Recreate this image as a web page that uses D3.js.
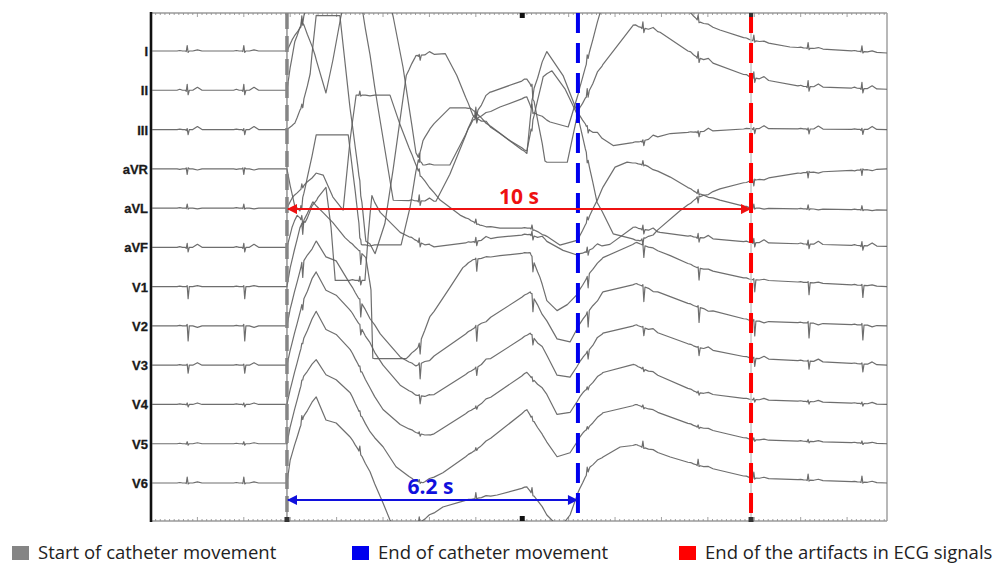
<!DOCTYPE html>
<html><head><meta charset="utf-8">
<script src="https://cdn.jsdelivr.net/npm/d3@7"></script>
<style>
html,body{margin:0;padding:0;background:#fff;}
svg{display:block;}
</style></head>
<body>
<script>
// ---------- DATA ----------
const leads = ["I","II","III","aVR","aVL","aVF","V1","V2","V3","V4","V5","V6"];
// baseline drift / artifact of each lead: [time s, mV]
const lead_I = [[0,0],[2.93,0],[3.04,1.1],[3.28,2.8],[3.53,-0.4],[3.77,-4.2],[3.92,-0.9],[4.09,3.4],[4.20,5.6],[5.11,5.6],[5.22,3.4],[5.43,-1.6],[5.71,-10.2],[5.86,-11.4],[6.44,-11.4],[6.94,-6.9],[7.52,-5.6],[8.10,-4.6],[8.23,-6.1],[8.60,-7.1],[8.99,-7.6],[9.20,-4.4],[9.46,0.1],[9.68,3.8],[9.78,5.6],[11.51,5.6],[11.62,3.8],[11.83,2.9],[12.26,2.1],[12.93,1.1],[13.77,0.4],[15.86,-0.2]];
const lead_II = [[0,0],[2.93,0],[3.00,2.3],[3.10,4.8],[3.21,6.3],[3.32,7.8],[3.38,9.8],[4.50,9.8],[4.57,7.6],[4.89,-1.7],[5.22,-11.0],[6.14,-11.1],[6.44,-8.4],[6.94,-2.7],[7.31,-0.2],[8.10,1.1],[8.19,0.5],[8.32,-2.7],[8.49,-7.2],[8.97,-7.2],[9.20,-2.2],[9.74,2.6],[10.39,6.5],[10.97,5.8],[11.77,3.3],[12.93,1.3],[13.99,0.4],[15.86,0.1]];
const lead_III = [[0,0],[2.93,0],[3.10,0.6],[3.28,2.8],[3.43,5.4],[3.56,11.4],[4.07,11.4],[4.29,2.1],[4.50,-5.2],[4.63,-11.2],[4.83,-12.4],[5.04,-9.4],[5.22,-3.9],[5.37,1.1],[5.50,5.4],[5.71,7.4],[6.34,7.6],[6.59,5.4],[6.94,1.4],[7.52,-0.4],[8.10,-2.4],[8.23,3.8],[8.53,7.8],[8.88,5.4],[9.20,1.6],[9.46,-0.1],[9.96,-1.6],[10.54,-1.2],[11.19,-0.4],[12.93,0.1],[15.86,0]];
const lead_aVR = [[0,0],[2.93,0],[3.00,-1.7],[3.10,-3.7],[3.21,-4.2],[3.34,-1.5],[3.56,3.4],[4.25,3.4],[4.40,-2.2],[4.53,-7.6],[5.39,-7.6],[5.58,-3.9],[5.71,-0.2],[5.86,2.8],[6.01,4.1],[6.44,6.1],[6.88,6.1],[7.31,4.3],[7.74,2.8],[8.10,1.8],[8.23,4.8],[8.45,9.3],[8.64,9.8],[8.92,8.0],[9.20,5.3],[9.61,-3.2],[9.96,-6.5],[10.54,-7.2],[10.82,-6.5],[11.40,-4.2],[11.77,-2.9],[12.26,-2.0],[12.93,-1.2],[13.99,-0.4],[15.86,0]];
const lead_aVL = [[0,0],[2.93,0],[3.04,1.0],[3.21,1.8],[3.34,2.5],[3.56,3.5],[3.71,3.3],[3.92,1.1],[4.14,-0.2],[4.29,6.8],[4.42,11.3],[5.15,11.3],[5.37,8.3],[5.58,5.8],[5.80,3.3],[6.23,0.8],[6.66,-0.7],[7.09,-1.7],[7.52,-2.0],[8.17,-2.0],[8.49,-2.7],[8.81,-3.7],[9.20,-3.2],[9.46,-0.7],[9.74,2.1],[10.00,4.1],[10.26,4.6],[10.65,4.3],[11.19,3.1],[11.77,1.5],[12.26,0.8],[12.93,0],[15.86,-0.2]];
const lead_aVF = [[0,0],[2.93,0],[3.04,2.0],[3.15,3.2],[3.32,2.5],[3.60,5.0],[3.77,6.0],[3.88,2.0],[3.97,-3.3],[4.61,-3.3],[4.68,1.0],[4.76,5.0],[4.94,3.5],[5.37,1.5],[6.01,0],[6.88,0.5],[7.46,1.0],[8.17,1.3],[8.49,0.7],[8.88,-0.3],[9.20,-0.8],[9.57,0],[9.89,0.3],[10.39,2.0],[10.97,1.5],[11.77,1.0],[12.93,0.5],[15.86,0.1]];
const lead_V1 = [[0,0],[2.93,0],[3.00,1.9],[3.21,5.9],[3.49,8.4],[3.71,7.4],[3.92,6.4],[4.18,4.9],[4.46,3.7],[4.63,2.9],[4.74,-0.4],[4.78,-7.2],[5.50,-7.2],[5.75,-6.1],[6.01,-3.1],[6.44,-0.1],[6.72,1.9],[6.94,2.7],[7.52,3.1],[8.17,3.4],[8.38,0.9],[8.53,-1.4],[8.75,-2.4],[8.97,-1.8],[9.18,-0.8],[9.46,1.4],[9.74,2.9],[10.47,4.4],[11.19,3.1],[11.77,1.9],[12.95,0.7],[15.86,0]];
const lead_V2 = [[0,0],[2.93,0],[3.00,1.7],[3.25,6.2],[3.56,8.5],[3.77,6.9],[3.99,6.5],[4.29,4.2],[4.61,1.7],[4.94,-0.8],[5.37,-3.1],[5.71,-4.0],[6.01,-3.3],[7.03,0],[8.17,3.4],[8.38,1.7],[8.53,0.5],[8.75,-1.3],[9.03,-1.6],[9.18,-0.3],[9.31,0.7],[9.74,3.4],[10.47,4.2],[11.77,1.9],[12.95,0.5],[15.86,0]];
const lead_V3 = [[0,0],[2.93,0],[3.00,1.5],[3.28,6.5],[3.56,9.3],[3.77,7.5],[3.99,7.0],[4.29,5.5],[4.50,4.0],[4.72,2.0],[5.00,0],[5.37,-2.0],[5.71,-3.0],[6.01,-3.2],[7.03,-0.2],[8.17,3.2],[8.53,1.0],[8.75,-1.0],[9.03,-1.2],[9.31,0.8],[9.74,3.2],[10.47,4.0],[11.77,1.8],[12.95,0.7],[15.86,0]];
const lead_V4 = [[0,0],[2.93,0],[3.00,1.5],[3.28,6.5],[3.56,9.3],[3.77,7.5],[3.99,7.0],[4.29,5.5],[4.50,3.7],[4.72,1.5],[5.00,-0.5],[5.37,-2.0],[5.71,-2.8],[6.01,-3.2],[7.03,-0.2],[8.10,3.2],[8.53,1.0],[8.75,-1.0],[9.03,-0.8],[9.31,1.2],[9.74,3.2],[10.39,4.0],[11.77,1.2],[12.95,0.5],[15.86,0]];
const lead_V5 = [[0,0],[2.93,0],[3.00,1.7],[3.28,6.7],[3.56,8.4],[3.77,6.9],[3.99,6.4],[4.29,5.1],[4.50,3.1],[4.72,1.1],[5.00,-0.3],[5.28,-2.3],[5.65,-3.6],[5.86,-3.9],[6.29,-2.9],[7.09,-0.3],[8.10,3.4],[8.45,0.7],[8.75,-1.3],[9.03,-0.9],[9.31,1.1],[9.74,3.1],[10.47,3.9],[11.77,1.7],[12.95,0.4],[15.86,0]];
const lead_V6 = [[0,0],[2.93,0],[3.00,2.3],[3.28,6.6],[3.56,8.6],[3.77,6.3],[3.99,6.0],[4.29,4.6],[4.50,3.1],[4.72,1.0],[5.00,-2.0],[5.15,-3.7],[5.37,-5.2],[5.71,-4.2],[6.29,-2.4],[6.81,-1.7],[7.46,-1.2],[8.10,-0.4],[8.32,-1.7],[8.53,-3.2],[8.81,-4.5],[9.03,-3.2],[9.20,-1.0],[9.46,1.6],[9.74,2.6],[10.11,3.6],[10.47,3.8],[11.19,2.6],[11.77,1.8],[12.95,0.5],[15.86,0]];

// heart beats (s) and beat shape (relative time s)
const beatTimes = [0.78, 2.00, 3.25, 4.50, 5.78, 7.00, 8.21, 9.40, 10.60, 11.79, 12.99, 14.16, 15.32];
const beatOffsets = [-0.22, -0.16, -0.10, -0.04, -0.02, 0, 0.02, 0.045, 0.12, 0.22, 0.32];
// per-lead wave amplitudes (mV): P, Q, R, S, T
const waveP = [0.05, 0.10, 0.05, -0.05, 0.05, 0.08, 0.05, 0.05, 0.05, 0.05, 0.05, 0.05];
const waveQ = [-0.05, -0.1, -0.1, 0.1, -0.05, -0.1, 0, 0, 0, -0.05, -0.05, -0.05];
const waveR = [0.55, 0.6, 0.1, -0.55, 0.4, 0.4, 0.1, 0.15, 0.1, 0.15, 0.2, 0.6];
const waveS = [-0.15, -0.45, -0.5, 0.1, -0.1, -0.45, -1.2, -1.5, -0.8, -0.25, -0.15, -0.1];
const waveT = [0.12, 0.3, 0.3, -0.12, -0.08, 0.3, 0.1, -0.15, 0.25, 0.15, 0.1, 0.12];

// events (s) and labels
const eventTimes = [2.93, 9.20, 12.93];
const eventColors = ["#858585", "#0000ee", "#ff0000"];
const legendLabels = ["Start of catheter movement", "End of catheter movement", "End of the artifacts in ECG signals"];
const spanLabels = ["10 s", "6.2 s"];

const drift = {I:lead_I, II:lead_II, III:lead_III, aVR:lead_aVR, aVL:lead_aVL, aVF:lead_aVF,
  V1:lead_V1, V2:lead_V2, V3:lead_V3, V4:lead_V4, V5:lead_V5, V6:lead_V6};

// ---------- LAYOUT ----------
const W = 1002, H = 566;
const L = 151, R = 887, T = 13, B = 521;
const svg = d3.select("body").append("svg").attr("width", W).attr("height", H);

const x = d3.scaleLinear().domain([0, 15.86]).range([L, R]);
const yLead = d3.scalePoint().domain(leads).range([51, 483]);
const mv = d3.scaleLinear().domain([0, 1]).range([0, -10]);

svg.append("defs").append("clipPath").attr("id", "plotclip")
  .append("rect").attr("x", L + 1).attr("y", T).attr("width", R - L - 1).attr("height", B - T);

// frame
const frame = svg.append("g");
frame.append("line").attr("x1", L).attr("x2", R).attr("y1", T).attr("y2", T).attr("stroke", "#9a9a9a").attr("stroke-width", 1.5);
frame.append("line").attr("x1", L).attr("x2", R).attr("y1", B).attr("y2", B).attr("stroke", "#9a9a9a").attr("stroke-width", 1.5);
frame.append("line").attr("x1", R).attr("x2", R).attr("y1", T).attr("y2", B).attr("stroke", "#a0a0a0").attr("stroke-width", 1.5);
// ruler ticks
const tickT = d3.range(0, 15.86, 0.1);
frame.selectAll("line.tt").data(tickT).join("line").attr("class", "tt")
  .attr("x1", d => x(d)).attr("x2", d => x(d))
  .attr("y1", T).attr("y2", d => T + (Math.abs(d - Math.round(d)) < 0.01 ? 4 : 2))
  .attr("stroke", "#8a8a8a").attr("stroke-width", 0.8);
frame.selectAll("line.tb").data(tickT).join("line").attr("class", "tb")
  .attr("x1", d => x(d)).attr("x2", d => x(d))
  .attr("y1", B).attr("y2", d => B - (Math.abs(d - Math.round(d)) < 0.01 ? 4 : 2))
  .attr("stroke", "#8a8a8a").attr("stroke-width", 0.8);
frame.append("line").attr("x1", L).attr("x2", L).attr("y1", T - 1).attr("y2", B + 1).attr("stroke", "#111").attr("stroke-width", 2.6);
// small black markers on ruler
[8.0].forEach(t => {
  frame.append("rect").attr("x", x(t) - 2.5).attr("y", T).attr("width", 5).attr("height", 5).attr("fill", "#111");
  frame.append("rect").attr("x", x(t) - 2.5).attr("y", B - 5).attr("width", 5).attr("height", 5).attr("fill", "#111");
});

// lead labels
svg.append("g").selectAll("text").data(leads).join("text")
  .attr("x", 148).attr("y", d => yLead(d) + 5)
  .attr("text-anchor", "end")
  .attr("font-family", "Liberation Sans, Arial, sans-serif")
  .attr("font-weight", "bold").attr("font-size", 13).attr("fill", "#1a1a1a")
  .attr("stroke", "#1a1a1a").attr("stroke-width", 0.3)
  .text(d => d);

// traces
function tracePoints(lead, i) {
  const d = drift[lead];
  const base = d3.scaleLinear().domain(d.map(p => p[0])).range(d.map(p => p[1]));
  const shape = d3.scaleLinear().domain(beatOffsets)
    .range([0, waveP[i], 0, 0, waveQ[i], waveR[i], waveS[i], 0, 0, waveT[i], 0]).clamp(true);
  let ts = d.map(p => p[0]);
  beatTimes.forEach(b => beatOffsets.forEach(o => ts.push(b + o)));
  ts = Array.from(new Set(ts.map(t => +t.toFixed(4)))).filter(t => t >= 0 && t <= 15.86).sort((a, b) => a - b);
  return ts.map(t => {
    let v = base(t);
    beatTimes.forEach(b => { if (Math.abs(t - b) <= 0.32) v += shape(t - b); });
    return [x(t), yLead(lead) + mv(v)];
  });
}
const line = d3.line();
svg.append("g").attr("clip-path", "url(#plotclip)")
  .selectAll("path").data(leads).join("path")
  .attr("d", (l, i) => line(tracePoints(l, i)))
  .attr("fill", "none").attr("stroke", "#5e5e5e").attr("stroke-width", 1.2)
  .attr("stroke-linejoin", "round").attr("opacity", 0.9);

// event lines
const ev = svg.append("g");
ev.append("line").attr("x1", x(eventTimes[0])).attr("x2", x(eventTimes[0])).attr("y1", T).attr("y2", B)
  .attr("stroke", "#777").attr("stroke-width", 1.2);
ev.append("line").attr("x1", x(eventTimes[2])).attr("x2", x(eventTimes[2])).attr("y1", T).attr("y2", B)
  .attr("stroke", "#c8c8c8").attr("stroke-width", 1.5);
ev.selectAll("line.dash").data(eventTimes).join("line").attr("class", "dash")
  .attr("x1", d => x(d)).attr("x2", d => x(d)).attr("y1", T).attr("y2", B)
  .attr("stroke", (d, i) => eventColors[i]).attr("stroke-width", (d, i) => i === 0 ? 3.5 : 4)
  .attr("stroke-dasharray", (d, i) => i === 0 ? "16,7" : "20,10");
[0, 2].forEach(i => {
  ev.append("rect").attr("x", x(eventTimes[i]) - 2.5).attr("y", B - 4).attr("width", 5).attr("height", 5).attr("fill", "#333");
});
ev.append("rect").attr("x", x(eventTimes[2]) - 2).attr("y", T).attr("width", 4).attr("height", 4).attr("fill", "#333");

// span arrows
const defs = svg.select("defs");
["red", "blue"].forEach((c, i) => {
  const col = i === 0 ? "#ee1111" : "#1010dd";
  defs.append("marker").attr("id", "arr-" + c).attr("viewBox", "0 0 10 10").attr("refX", 9).attr("refY", 5)
    .attr("markerWidth", 6).attr("markerHeight", 5).attr("orient", "auto-start-reverse")
    .attr("markerUnits", "strokeWidth")
    .append("path").attr("d", "M0,0 L10,5 L0,10 z").attr("fill", col);
});
const spans = [
  {t0: eventTimes[0], t1: eventTimes[2], y: yLead("aVL") + 1, col: "#ee1111", m: "red", label: spanLabels[0], ly: 204},
  {t0: eventTimes[0], t1: eventTimes[1], y: 500, col: "#1010dd", m: "blue", label: spanLabels[1], ly: 494}
];
spans.forEach(s => {
  svg.append("line").attr("x1", x(s.t0) + 1).attr("x2", x(s.t1) - 1).attr("y1", s.y).attr("y2", s.y)
    .attr("stroke", s.col).attr("stroke-width", 2)
    .attr("marker-start", `url(#arr-${s.m})`).attr("marker-end", `url(#arr-${s.m})`);
  svg.append("text").attr("x", (x(s.t0) + x(s.t1)) / 2 + (s.m === "blue" ? -2 : 0)).attr("y", s.ly)
    .attr("text-anchor", "middle").attr("font-family", "Open Sans, Liberation Sans, sans-serif")
    .attr("font-weight", "bold").attr("font-size", 21).attr("fill", s.col).text(s.label);
});

// legend
const legX = [12, 352, 679];
const lg = svg.append("g");
legendLabels.forEach((t, i) => {
  lg.append("rect").attr("x", legX[i]).attr("y", 546).attr("width", 17).attr("height", 14).attr("fill", eventColors[i]);
  lg.append("text").attr("x", legX[i] + 26).attr("y", 559)
    .attr("font-family", "Open Sans, Liberation Sans, sans-serif").attr("font-size", 18.5).attr("fill", "#222")
    .text(t);
});
</script>
</body></html>
